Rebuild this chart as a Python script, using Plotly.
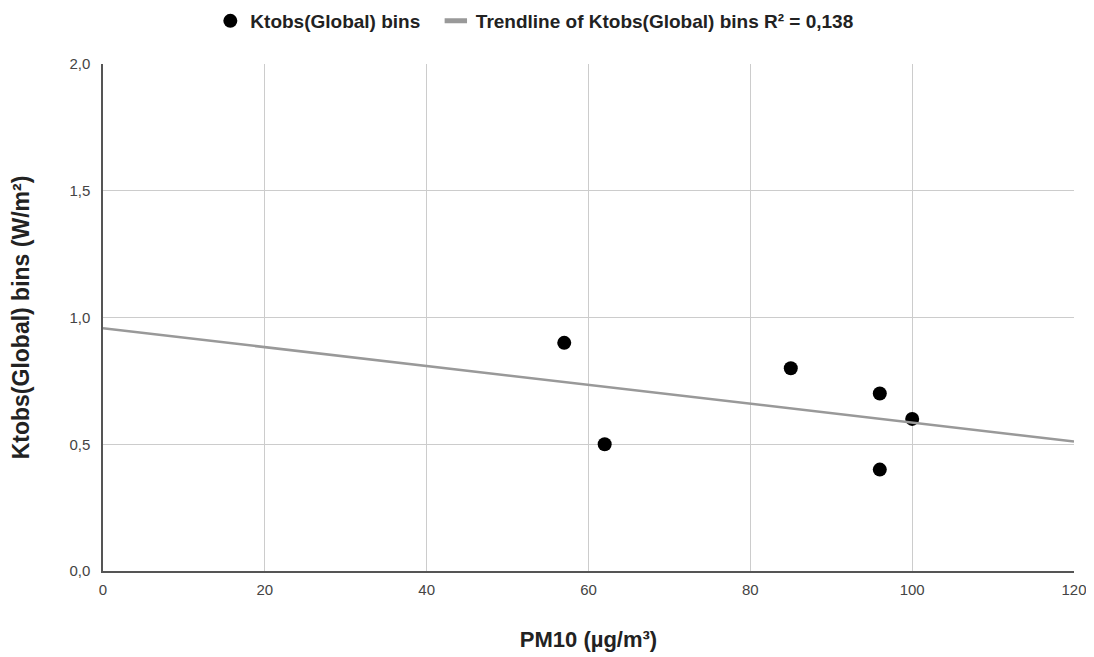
import numpy as np
import plotly.graph_objects as go

pm10 = [57, 62, 85, 96, 96, 100]
ktobs = [0.9, 0.5, 0.8, 0.7, 0.4, 0.6]
x_ticks = [0, 20, 40, 60, 80, 100, 120]
y_ticks = [0.0, 0.5, 1.0, 1.5, 2.0]
y_tick_labels = ["0,0", "0,5", "1,0", "1,5", "2,0"]

xa = np.array(pm10, dtype=float)
ya = np.array(ktobs, dtype=float)
slope, intercept = np.polyfit(xa, ya, 1)
r2 = np.corrcoef(xa, ya)[0, 1] ** 2
trend_x = [0, 120]
trend_y = [intercept + slope * v for v in trend_x]
trend_name = "<b>Trendline of Ktobs(Global) bins R² = " + f"{r2:.3f}".replace(".", ",") + "</b>"

font = "Liberation Sans, Arial, sans-serif"

fig = go.Figure()
fig.add_trace(go.Scatter(
    x=pm10, y=ktobs, mode="markers", name="<b>Ktobs(Global) bins</b>&nbsp;&nbsp;",
    marker=dict(color="black", size=14),
))
fig.add_trace(go.Scatter(
    x=trend_x, y=trend_y, mode="lines", name=trend_name, showlegend=False,
    line=dict(color="#999999", width=2.5), hoverinfo="skip",
))
# legend entry for the trendline (short thick bar like the original)
fig.add_trace(go.Scatter(
    x=[None], y=[None], mode="markers", name=trend_name,
    marker=dict(symbol="line-ew", size=17, color="#999999",
                line=dict(color="#999999", width=5)),
))

fig.update_layout(
    width=1082, height=649,
    paper_bgcolor="white", plot_bgcolor="white",
    margin=dict(l=95, r=16, t=56, b=86),
    font=dict(family=font, color="#222222"),
    showlegend=True,
    legend=dict(orientation="h", xref="container", x=0.187, xanchor="left",
                yref="container", y=0.98, yanchor="middle",
                bgcolor="rgba(0,0,0,0)",
                font=dict(size=19, color="#222222", family=font),
                traceorder="normal"),
)
fig.update_xaxes(
    range=[0, 120], tickvals=x_ticks, ticktext=[str(v) for v in x_ticks],
    showgrid=True, gridcolor="#cccccc", gridwidth=1,
    showline=True, linecolor="#555555", linewidth=1.5,
    zeroline=False, ticks="", ticklabelstandoff=4, automargin=False,
    tickfont=dict(size=15, color="#444444", family=font),
    title=dict(text="<b>PM10 (µg/m³)</b>", font=dict(size=22, color="#222222", family=font), standoff=35),
)
fig.update_yaxes(
    range=[0, 2.0], tickvals=y_ticks, ticktext=y_tick_labels,
    showgrid=True, gridcolor="#cccccc", gridwidth=1,
    showline=True, linecolor="#555555", linewidth=1.5,
    zeroline=False, ticks="", ticklabelstandoff=8, automargin=False,
    tickfont=dict(size=15, color="#444444", family=font),
    title=dict(text="<b>Ktobs(Global) bins (W/m²)</b>", font=dict(size=23, color="#222222", family=font), standoff=33),
)

fig.write_html("out.html")
